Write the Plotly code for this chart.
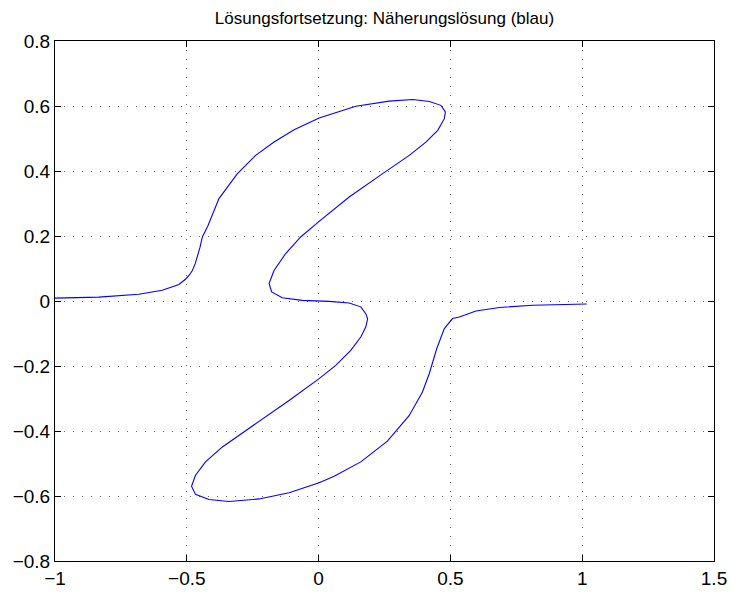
import plotly.graph_objects as go

# Curve (continuation path, in order)
x_vals = [-1.000, -0.834, -0.682, -0.593, -0.530, -0.505, -0.490, -0.479, -0.468, -0.460,
          -0.450, -0.441, -0.419, -0.378, -0.308, -0.239, -0.169, -0.093, 0.002, 0.141,
          0.268, 0.357, 0.420, 0.464, 0.481, 0.477, 0.452, 0.407, 0.344, 0.243,
          0.116, 0.002, -0.068, -0.125, -0.169, -0.188, -0.178, -0.138, -0.062, 0.040,
          0.116, 0.160, 0.179, 0.186, 0.179, 0.160, 0.122, 0.065, 0.002, -0.112,
          -0.239, -0.365, -0.429, -0.467, -0.482, -0.467, -0.416, -0.340, -0.226, -0.112,
          0.002, 0.059, 0.160, 0.261, 0.344, 0.394, 0.420, 0.448, 0.477, 0.508,
          0.534, 0.597, 0.686, 0.812, 1.017]
y_vals = [0.009, 0.012, 0.021, 0.033, 0.051, 0.067, 0.080, 0.094, 0.115, 0.135,
          0.165, 0.197, 0.233, 0.315, 0.392, 0.448, 0.489, 0.527, 0.563, 0.599,
          0.615, 0.620, 0.614, 0.602, 0.582, 0.561, 0.525, 0.489, 0.448, 0.392,
          0.320, 0.245, 0.197, 0.146, 0.094, 0.054, 0.028, 0.010, 0.002, -0.001,
          -0.006, -0.018, -0.039, -0.055, -0.080, -0.111, -0.152, -0.198, -0.239, -0.306,
          -0.377, -0.449, -0.495, -0.536, -0.570, -0.595, -0.611, -0.617, -0.609, -0.590,
          -0.559, -0.539, -0.495, -0.431, -0.352, -0.280, -0.223, -0.147, -0.085, -0.054,
          -0.049, -0.031, -0.020, -0.013, -0.009]

x_ticks = [-1, -0.5, 0, 0.5, 1, 1.5]
y_ticks = [-0.8, -0.6, -0.4, -0.2, 0, 0.2, 0.4, 0.6, 0.8]
title_text = "Lösungsfortsetzung: Näherungslösung (blau)"

FONT = "Liberation Sans, Arial, Helvetica, sans-serif"

fig = go.Figure()
fig.add_trace(go.Scatter(x=x_vals, y=y_vals, mode="lines",
                         line=dict(color="#0000ff", width=1.1), showlegend=False))

axis_common = dict(
    showline=True, linecolor="black", linewidth=1, mirror="ticks",
    ticks="inside", ticklen=6, tickcolor="black",
    showgrid=True, gridcolor="#666666", gridwidth=1, griddash="1px,8px",
    zeroline=False, automargin=False,
    tickfont=dict(family=FONT, size=19, color="black"),
)

fig.update_xaxes(range=[-1, 1.5], tickvals=x_ticks, **axis_common)
fig.update_yaxes(range=[-0.8, 0.8], tickvals=y_ticks, **axis_common)

fig.update_layout(
    width=731, height=593,
    margin=dict(l=55, r=17, t=41, b=32),
    paper_bgcolor="white", plot_bgcolor="white",
    title=dict(text=title_text, x=0.5, xref="paper", y=1 - 18 / 593, yref="container",
               xanchor="center", yanchor="middle",
               font=dict(family=FONT, size=17, color="black")),
)

fig.write_html("out.html",
               config={"displayModeBar": False},
               post_script="document.body.style.margin='0';document.body.style.overflow='hidden';")
